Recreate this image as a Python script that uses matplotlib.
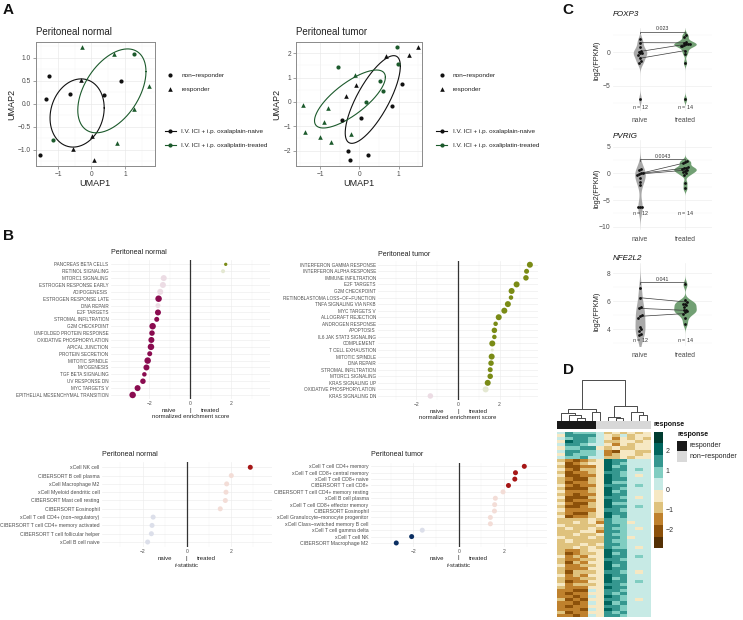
import numpy as np
import matplotlib
matplotlib.use("Agg")
import matplotlib.pyplot as plt
from matplotlib.colors import ListedColormap, BoundaryNorm

plt.rcParams["font.family"] = ["Liberation Sans", "DejaVu Sans"]
plt.rcParams["mathtext.fontset"] = "custom"
plt.rcParams["mathtext.it"] = "Liberation Sans:italic"
plt.rcParams["mathtext.rm"] = "Liberation Sans"

W, H = 743, 620
PT = 0.72  # points per pixel at 100 dpi

# ---------------- A: UMAP data ----------------
normal_umap1 = [-0.28, 0.67, 1.26, 1.72, 0.89, -1.28, -0.31, -0.63, 0.38, -1.35, 1.28, 0.01, -1.14, 0.76, -0.56, -1.54, 0.08]
normal_umap2 = [1.24, 1.07, 1.09, 0.38, 0.49, 0.61, 0.51, 0.21, 0.20, 0.10, -0.12, -0.69, -0.78, -0.86, -0.98, -1.12, -1.23]
normal_treat = ["T", "T", "T", "T", "N", "N", "N", "N", "N", "N", "T", "N", "T", "T", "N", "N", "N"]
normal_resp = ["R", "R", "NR", "R", "NR", "NR", "R", "NR", "NR", "NR", "R", "R", "NR", "R", "R", "NR", "R"]

tumor_umap1 = [-1.44, -0.54, -0.10, -0.08, -0.34, 0.17, -0.80, -0.44, 0.04, -0.91, -1.38, -1.00, -0.21,
               -0.72, -0.30, -0.25, 0.22, 0.96, 1.48, 0.67, 1.26, 0.98, 0.53, 1.09, 0.59, 0.82]
tumor_umap2 = [-0.12, 1.42, 1.11, 0.70, 0.25, 0.00, -0.26, -0.75, -0.67, -0.84, -1.23, -1.45, -1.30,
               -1.66, -2.00, -2.40, -2.19, 2.27, 2.27, 1.87, 1.94, 1.54, 0.85, 0.74, 0.44, -0.18]
tumor_treat = ["T", "T", "T", "N", "N", "T", "T", "N", "N", "T", "T", "T", "T",
               "T", "N", "N", "N", "T", "N", "N", "N", "T", "T", "N", "T", "N"]
tumor_resp = ["R", "NR", "R", "R", "R", "NR", "R", "NR", "NR", "R", "R", "R", "R",
              "R", "NR", "NR", "NR", "NR", "R", "R", "R", "NR", "NR", "NR", "NR", "NR"]

# ellipses: centre x, centre y, sd x, sd y, correlation
normal_ell_naive = (-0.43, -0.20, 0.81, 0.74, 0.15)
normal_ell_treated = (0.61, 0.28, 1.02, 0.91, 0.46)
tumor_ell_naive = (0.34, 0.10, 0.70, 1.80, 0.76)
tumor_ell_treated = (-0.24, 0.12, 0.90, 1.19, 0.75)

# ---------------- B: enrichment data ----------------
gs_normal = ["PANCREAS BETA CELLS", "RETINOL SIGNALING", "MTORC1 SIGNALING", "ESTROGEN RESPONSE EARLY",
             "ADIPOGENESIS", "ESTROGEN RESPONSE LATE", "DNA REPAIR", "E2F TARGETS", "STROMAL INFILTRATION",
             "G2M CHECKPOINT", "UNFOLDED PROTEIN RESPONSE", "OXIDATIVE PHOSPHORYLATION", "APICAL JUNCTION",
             "PROTEIN SECRETION", "MITOTIC SPINDLE", "MYOGENESIS", "TGF BETA SIGNALING", "UV RESPONSE DN",
             "MYC TARGETS V", "EPITHELIAL MESENCHYMAL TRANSITION"]
nes_normal = [1.72, 1.59, -1.29, -1.33, -1.46, -1.54, -1.57, -1.57, -1.63, -1.83, -1.86, -1.89, -1.91,
              -1.97, -2.07, -2.13, -2.23, -2.30, -2.56, -2.80]
sig_normal = [1, 0, 0, 0, 0, 1, 0, 1, 1, 1, 1, 1, 1, 1, 1, 1, 1, 1, 1, 1]
dot_normal = [3.3, 4.0, 6.0, 6.0, 6.0, 6.5, 5.0, 6.0, 5.0, 6.5, 5.5, 6.0, 6.5, 5.0, 6.5, 6.0, 4.5, 5.5, 6.0, 6.5]

gs_tumor = ["INTERFERON GAMMA RESPONSE", "INTERFERON ALPHA RESPONSE", "IMMUNE INFILTRATION", "E2F TARGETS",
            "G2M CHECKPOINT", "RETINOBLASTOMA LOSS\u2212OF\u2212FUNCTION", "TNFA SIGNALING VIA NFKB",
            "MYC TARGETS V", "ALLOGRAFT REJECTION", "ANDROGEN RESPONSE", "APOPTOSIS", "IL6 JAK STAT3 SIGNALING",
            "COMPLEMENT", "T CELL EXHAUSTION", "MITOTIC SPINDLE", "DNA REPAIR", "STROMAL INFILTRATION",
            "MTORC1 SIGNALING", "KRAS SIGNALING UP", "OXIDATIVE PHOSPHORYLATION", "KRAS SIGNALING DN"]
nes_tumor = [3.46, 3.30, 3.27, 2.82, 2.58, 2.55, 2.40, 2.23, 1.96, 1.81, 1.75, 1.75, 1.65, 1.65, 1.62,
             1.59, 1.55, 1.55, 1.43, 1.33, -1.33]
sig_tumor = [1, 1, 1, 1, 1, 1, 1, 1, 1, 1, 1, 1, 1, 0, 1, 1, 1, 1, 1, 0, 0]
dot_tumor = [6.0, 5.0, 5.5, 6.0, 6.0, 4.5, 6.0, 6.0, 6.0, 4.5, 5.5, 4.5, 6.0, 3.0, 6.0, 5.5, 5.0, 5.5,
             6.0, 6.0, 5.5]

cells_normal = ["xCell NK cell", "CIBERSORT B cell plasma", "xCell Macrophage M2", "xCell Myeloid dendritic cell",
                "CIBERSORT Mast cell resting", "CIBERSORT Eosinophil", "xCell T cell CD4+ (non\u2212regulatory)",
                "CIBERSORT T cell CD4+ memory activated", "CIBERSORT T cell follicular helper", "xCell B cell naive"]
tstat_normal = [2.88, 2.02, 1.81, 1.78, 1.75, 1.52, -1.52, -1.57, -1.60, -1.77]
tsig_normal = [1, 0, 0, 0, 0, 0, 0, 0, 0, 0]

cells_tumor = ["xCell T cell CD4+ memory", "xCell T cell CD8+ central memory", "xCell T cell CD8+ naive",
               "CIBERSORT T cell CD8+", "CIBERSORT T cell CD4+ memory resting", "xCell B cell plasma",
               "xCell T cell CD8+ effector memory", "CIBERSORT Eosinophil",
               "xCell Granulocyte\u2212monocyte progenitor", "xCell Class\u2212switched memory B cell",
               "xCell T cell gamma delta", "xCell T cell NK", "CIBERSORT Macrophage M2"]
tstat_tumor = [2.90, 2.51, 2.48, 2.20, 1.96, 1.62, 1.59, 1.58, 1.40, 1.40, -1.61, -2.08, -2.76]
tsig_tumor = [1, 1, 1, 1, 0, 0, 0, 0, 0, 0, 0, 1, 1]

# ---------------- C: expression data ----------------
foxp3_naive = [1.93, 1.42, 0.83, 0.24, 0.09, -0.06, -0.15, -0.40, -0.89, -1.29, -1.63, -6.97]
foxp3_treated = [2.57, 2.32, 1.57, 1.40, 1.28, 1.25, 1.20, 1.10, 1.00, 0.90, 0.25, -0.20, -1.54, -6.97]
foxp3_pairs = [(1, 3), (4, 4), (8, 10)]
pvrig_naive = [0.80, 0.62, 0.10, 0.00, -0.13, -0.31, -0.94, -1.57, -2.20, -6.30, -6.30, -6.30]
pvrig_treated = [2.30, 2.20, 1.90, 1.25, 1.00, 0.94, 0.80, 0.62, 0.50, 0.30, 0.00, -0.30, -1.76, -2.80]
pvrig_pairs = [(3, 4), (4, 7), (2, 2)]
nfe_naive = [6.98, 6.26, 5.60, 5.50, 5.00, 4.93, 4.84, 4.16, 4.05, 3.86, 3.69, 3.57]
nfe_treated = [7.21, 6.07, 5.95, 5.84, 5.80, 5.71, 5.59, 5.41, 5.36, 5.30, 5.24, 5.12, 4.84, 4.41]
nfe_pairs = [(1, 2), (3, 8), (5, 11)]
p_values = ["0.023", "0.0043", "0.041"]

# ---------------- D: heatmap data ----------------
sample_response = ["responder"] * 5 + ["non\u2212responder"] * 7
# each char = colour bin 0 (lowest) .. 9 (highest) of the scaled expression
heat_rows = [
    "576665343434", "477775435344", "567765424343", "487765334434", "577655424344", "466774343344",
    "577665214433", "476665234434", "566755334344",
    "321234877555", "412344876555", "311224867555", "421334877565", "312234776555", "411224876545",
    "321134877555", "312234866555", "421224777565", "311134876555", "422234867555", "321224877555",
    "411134776545", "312224877555", "421134866555", "311234877565", "422224776555", "321134877555",
    "412234867555",
    "333343766555", "334342766455", "433334776555", "343343766545", "333442776555", "334334766555",
    "433343776455", "343333766555", "333434776555", "334343766545",
    "322344877555", "312334867555", "423244877565", "322334776555", "313244877555", "422334867555",
    "322244877555", "313334776545", "423244877555", "322334867555", "312244877565", "423334776555",
    "322244877555",
    "221154776555", "212244767555", "221254876555", "312144776545", "221254867555", "212244776555",
    "222154876555", "312244767555", "221254776555",
]
# column dendrogram: (left node, right node, height)
col_merges = [(2, 3, 3.0), (1, 12, 5.7), (0, 13, 8.0), (4, 5, 9.0), (14, 15, 11.3),
              (7, 8, 2.3), (6, 17, 4.0), (10, 11, 5.7), (9, 19, 9.0), (18, 20, 14.7), (16, 21, 40.7)]

BLACK, GREEN = "#111111", "#1c5a2c"
TXT = "#4d4d4d"

fig = plt.figure(figsize=(W / 100, H / 100), dpi=100)


def px_axes(x0, y0, x1, y1):
    return fig.add_axes([x0 / W, 1 - y1 / H, (x1 - x0) / W, (y1 - y0) / H])


ov = px_axes(0, 0, W, H)
ov.set_xlim(0, W)
ov.set_ylim(H, 0)
ov.axis("off")
ov.set_zorder(10)


def umap_panel(box, xs, ys, treat, resp, ells, xlim, ylim, yticks, ylabels, xminor, yminor):
    ax = px_axes(*box)
    for t, col in (("N", BLACK), ("T", GREEN)):
        for r, mk, s in (("NR", "o", 9), ("R", "^", 11)):
            sel = [(x, y) for x, y, tt, rr in zip(xs, ys, treat, resp) if tt == t and rr == r]
            if sel:
                px, py = zip(*sel)
                ax.scatter(px, py, marker=mk, s=s, c=col, linewidths=0, zorder=3)
    tt = np.linspace(0, 2 * np.pi, 300)
    for (cx, cy, sx, sy, r), col in zip(ells, (BLACK, GREEN)):
        ax.plot(cx + sx * np.cos(tt), cy + sy * (r * np.cos(tt) + np.sqrt(1 - r * r) * np.sin(tt)),
                color=col, lw=0.8, zorder=2)
    ax.set_xlim(xlim)
    ax.set_ylim(ylim)
    ax.set_xticks([-1, 0, 1])
    ax.set_xticklabels(["\u22121", "0", "1"])
    ax.set_yticks(yticks)
    ax.set_yticklabels(ylabels)
    ax.set_xticks(xminor, minor=True)
    ax.set_yticks(yminor, minor=True)
    ax.tick_params(labelsize=4.8, labelcolor=TXT, color="#7a7a7a", length=2, width=0.5, pad=1.5)
    ax.tick_params(which="minor", length=0)
    ax.grid(True, which="major", color="#e8e8e8", lw=0.45)
    ax.grid(True, which="minor", color="#f4f4f4", lw=0.3)
    ax.set_axisbelow(True)
    for s in ax.spines.values():
        s.set_color("#8a8a8a")
        s.set_linewidth(0.7)
    return ax


umap_panel((36, 42, 155, 166), normal_umap1, normal_umap2, normal_treat, normal_resp,
           (normal_ell_naive, normal_ell_treated), (-1.66, 1.9), (-1.35, 1.34),
           [-1, -0.5, 0, 0.5, 1], ["\u22121.0", "\u22120.5", "0.0", "0.5", "1.0"],
           [-1.5, -0.5, 0.5, 1.5], [-1.25, -0.75, -0.25, 0.25, 0.75, 1.25])
umap_panel((296, 42, 422, 166), tumor_umap1, tumor_umap2, tumor_treat, tumor_resp,
           (tumor_ell_naive, tumor_ell_treated), (-1.61, 1.59), (-2.63, 2.46),
           [-2, -1, 0, 1, 2], ["\u22122", "\u22121", "0", "1", "2"],
           [-1.5, -0.5, 0.5, 1.5], [-2.5, -1.5, -0.5, 0.5, 1.5])

for x0, title, xc in ((36, "Peritoneal normal", 95), (296, "Peritoneal tumor", 359)):
    ov.text(x0, 32, title, fontsize=7, ha="left", va="center", color="#222222")
    ov.text(xc, 183, "UMAP1", fontsize=6.5, ha="center", va="center", color="#222222")
for xl in (12, 277):
    ov.text(xl, 104, "UMAP2", fontsize=6.5, ha="center", va="center", rotation=90, color="#222222")

# legends of panel A
for xm in (170.3, 441.7):
    ov.scatter([xm], [75.3], marker="o", s=9, c=BLACK, linewidths=0)
    ov.scatter([xm], [89], marker="^", s=11, c=BLACK, linewidths=0)
    ov.text(xm + 11, 75.3, "non\u2212responder", fontsize=4.6, va="center", color="#222222")
    ov.text(xm + 11, 89, "responder", fontsize=4.6, va="center", color="#222222")
    for yy, col, lab in ((131.3, BLACK, "I.V. ICI + i.p. oxalaplain-naive"),
                         (145, GREEN, "I.V. ICI + i.p. oxaliplatin-treated")):
        ov.plot([xm - 5.5, xm + 5.5], [yy, yy], color=col, lw=0.8)
        ov.scatter([xm], [yy], marker="o", s=9, c=col, linewidths=0)
        ov.text(xm + 11, yy, lab, fontsize=4.6, va="center", color="#222222")


# ---------------- B ----------------
def dot_panel(box, labels, vals, sig, sizes, cols4, lim, lab_fs):
    x0, y0, x1, y1 = box
    ax = px_axes(*box)
    n = len(labels)
    y = np.arange(n)
    cpos, cpos_pale, cneg, cneg_pale = cols4
    cols = [(cpos if s else cpos_pale) if v > 0 else (cneg if s else cneg_pale) for v, s in zip(vals, sig)]
    ax.scatter(vals, y, s=[(d * PT) ** 2 for d in sizes], c=cols, linewidths=0, zorder=3)
    ax.axvline(0, color="#333333", lw=0.9, zorder=2)
    ax.set_xlim(-lim, lim)
    ax.set_ylim(n - 0.4, -0.6)
    ax.set_yticks(y)
    ax.set_yticklabels(labels, fontsize=lab_fs, color=TXT)
    ax.set_xticks([-2, 0, 2])
    ax.set_xticklabels(["\u22122", "0", "2"], fontsize=3.6, color=TXT)
    ax.set_xticks([-3, -1, 1, 3], minor=True)
    ax.tick_params(length=0, pad=1.5)
    ax.tick_params(which="minor", length=0)
    ax.grid(True, which="major", color="#ececec", lw=0.45)
    ax.grid(True, which="minor", axis="x", color="#f5f5f5", lw=0.3)
    ax.set_axisbelow(True)
    for s in ax.spines.values():
        s.set_visible(False)
    return (x0 + x1) / 2


GSEA_COLS = ("#7a8b16", "#e4e8d2", "#8a0c50", "#ecdce4")
CELL_COLS = ("#a61616", "#f3ddd7", "#0b2f62", "#dcdfea")

panels_b = [
    ((110.6, 260.2, 270, 399.1), gs_normal, nes_normal, sig_normal, dot_normal, GSEA_COLS, 3.87, 3.3,
     "Peritoneal normal", "normalized enrichment score", 253),
    ((378, 260.8, 538, 399.9), gs_tumor, nes_tumor, sig_tumor, dot_tumor, GSEA_COLS, 3.85, 3.3,
     "Peritoneal tumor", "normalized enrichment score", 254),
    ((101.7, 462.3, 271.7, 547), cells_normal, tstat_normal, tsig_normal, [5.0] * len(cells_normal),
     CELL_COLS, 3.85, 3.7, "Peritoneal normal", r"$t$-statistic", 455),
    ((370.7, 462.5, 546.7, 546.8), cells_tumor, tstat_tumor, tsig_tumor, [5.0] * len(cells_tumor),
     CELL_COLS, 3.89, 3.7, "Peritoneal tumor", r"$t$-statistic", 455),
]
for box, labs, vals, sig, sizes, cols4, lim, fs, title, xlab, ty in panels_b:
    zx = dot_panel(box, labs, vals, sig, sizes, cols4, lim, fs)
    ov.text(box[0], ty, title, fontsize=5.1, ha="left", va="center", color="#222222")
    yb = box[3]
    ov.text(zx - 21.5, yb + 11.2, "naive", fontsize=4.3, ha="center", va="center", color="#222222")
    ov.text(zx, yb + 11.2, "|", fontsize=4.3, ha="center", va="center", color="#222222")
    ov.text(zx + 20, yb + 11.2, "treated", fontsize=4.3, ha="center", va="center", color="#222222")
    ov.text(zx, yb + 17.9, xlab, fontsize=4.3, ha="center", va="center", color="#222222")


# ---------------- C ----------------
def kde(vals):
    v = np.asarray(vals, float)
    n = len(v)
    iqr = np.subtract(*np.percentile(v, [75, 25]))
    bw = 0.9 * min(v.std(ddof=1), iqr / 1.34) * n ** -0.2
    ys = np.linspace(v.min() - 3 * bw, v.max() + 3 * bw, 400)
    d = np.exp(-0.5 * ((ys[:, None] - v[None, :]) / bw) ** 2).sum(1) / (n * bw * np.sqrt(2 * np.pi))
    return ys, d


def swarm(vals, centre, dy, dx):
    v = np.asarray(vals, float)
    order = np.argsort(v)
    xs = np.full(len(v), float(centre))
    groups, cur = [], [order[0]]
    for i in order[1:]:
        if v[i] - v[cur[0]] < dy:
            cur.append(i)
        else:
            groups.append(cur)
            cur = [i]
    groups.append(cur)
    for g in groups:
        xs[g] = centre + (np.arange(len(g)) - (len(g) - 1) / 2) * dx
    return xs


def violin_panel(box, naive, treated, pairs, ylim, yticks, minor, pval, p_y, n_y, dy):
    ax = px_axes(*box)
    groups = [naive, treated]
    dens = [kde(g) for g in groups]
    peak = max(d.max() for _, d in dens)
    for pos, (ys, d), col in zip((1, 2), dens, ("#a9a9a9", "#72a074")):
        w = d / peak * 0.25
        ax.fill_betweenx(ys, pos - w, pos + w, color=col, lw=0, zorder=2)
    xs = [swarm(g, pos, dy, 0.04) for g, pos in zip(groups, (1, 2))]
    for i, j in pairs:
        ax.plot([xs[0][i], xs[1][j]], [naive[i], treated[j]], color="#3a3a3a", lw=0.5, zorder=3)
    for g, x in zip(groups, xs):
        ax.scatter(x, g, s=4, c="#111111", linewidths=0, zorder=4)
    tip = 0.02 * (ylim[1] - ylim[0])
    ax.plot([1, 1, 2, 2], [p_y - tip, p_y, p_y, p_y - tip], color="#3a3a3a", lw=0.5, zorder=3)
    ax.text(1.5, p_y + 0.2 * tip, pval, ha="center", va="bottom", fontsize=3.8, color="#333333")
    for pos, g in zip((1, 2), groups):
        ax.text(pos, n_y, r"$n$ = %d" % len(g), ha="center", va="center", fontsize=3.9, color="#333333")
    ax.set_xlim(0.4, 2.6)
    ax.set_ylim(ylim)
    ax.set_xticks([1, 2])
    ax.set_xticklabels(["naive", "treated"], fontsize=4.9, color=TXT)
    ax.set_yticks(yticks)
    ax.set_yticklabels([("\u2212%g" % -t) if t < 0 else "%g" % t for t in yticks], fontsize=4.9, color=TXT)
    ax.set_yticks(minor, minor=True)
    ax.tick_params(length=0, pad=2)
    ax.tick_params(axis="x", pad=4)
    ax.tick_params(which="minor", length=0)
    ax.grid(True, which="major", color="#ececec", lw=0.45)
    ax.grid(True, which="minor", axis="y", color="#f5f5f5", lw=0.3)
    ax.set_axisbelow(True)
    for s in ax.spines.values():
        s.set_visible(False)


violin_panel((613, 28, 712, 111), foxp3_naive, foxp3_treated, foxp3_pairs, (-8.72, 3.6), [-5, 0],
             [-7.5, -2.5, 2.5], p_values[0], 3.06, -8.1, 0.4)
violin_panel((613, 140, 712, 230), pvrig_naive, pvrig_treated, pvrig_pairs, (-10.6, 6.25), [-10, -5, 0, 5],
             [-7.5, -2.5, 2.5], p_values[1], 2.63, -7.5, 0.5)
violin_panel((613, 263, 712, 346), nfe_naive, nfe_treated, nfe_pairs, (2.81, 8.74), [4, 6, 8],
             [3, 5, 7], p_values[2], 7.36, 3.26, 0.19)

for ty, gene in ((14, "FOXP3"), (136, "PVRIG"), (258, "NFE2L2")):
    ov.text(613, ty, gene, fontsize=5.8, style="italic", ha="left", va="center", color="#111111")
for ly in (60, 188, 311.7):
    ov.text(597, ly, "log2(FPKM)", fontsize=5.3, rotation=90, ha="center", va="center", color="#222222")

# ---------------- D ----------------
brbg10 = ["#543005", "#8c510a", "#bf812d", "#dfc27d", "#f6e8c3",
          "#c7eae5", "#80cdc1", "#35978f", "#01665e", "#003c30"]
edges = np.linspace(-2.93, 2.93, 11)
bins = np.array([[int(c) for c in r] for r in heat_rows])
zvals = edges[:-1][bins] + (edges[1] - edges[0]) / 2
cmap = ListedColormap(brbg10)
norm = BoundaryNorm(edges, cmap.N)

axh = px_axes(557.3, 431.7, 650.7, 617)
im = axh.imshow(zvals, cmap=cmap, norm=norm, aspect="auto", interpolation="nearest")
axh.axis("off")

axa = px_axes(557.3, 421, 650.7, 429.3)
resp_cols = [[0.10, 0.10, 0.10] if r == "responder" else [0.85, 0.85, 0.85] for r in sample_response]
axa.imshow([resp_cols], aspect="auto", interpolation="nearest")
axa.axis("off")

axd = px_axes(557.3, 379.3, 650.7, 420.7)
node_x = {i: float(i) for i in range(len(sample_response))}
node_h = {i: 0.0 for i in range(len(sample_response))}
nid = len(sample_response)
for a, b, h in col_merges:
    axd.plot([node_x[a], node_x[a], node_x[b], node_x[b]], [node_h[a], h, h, node_h[b]],
             color="#4a4a4a", lw=0.7, solid_capstyle="butt")
    node_x[nid] = (node_x[a] + node_x[b]) / 2
    node_h[nid] = h
    nid += 1
axd.set_xlim(-0.5, len(sample_response) - 0.5)
axd.set_ylim(0, 41.4)
axd.axis("off")

axc = px_axes(654.3, 431.7, 662.7, 548.3)
cb = fig.colorbar(im, cax=axc, ticks=[-2, -1, 0, 1, 2])
cb.outline.set_visible(False)
cb.minorticks_off()
cb.ax.set_yticklabels(["\u22122", "\u22121", "0", "1", "2"])
cb.ax.tick_params(which="both", length=0, labelsize=5, labelcolor="#333333", pad=2)

ov.text(653, 425, "response", fontsize=5, fontweight="bold", ha="left", va="center", color="#111111")
ov.text(677, 435, "response", fontsize=5, fontweight="bold", ha="left", va="center", color="#111111")
ov.add_patch(plt.Rectangle((677, 440.5), 10, 10.5, color="#1a1a1a", lw=0))
ov.add_patch(plt.Rectangle((677, 451), 10, 10.5, color="#d9d9d9", lw=0))
ov.text(690, 445.7, "responder", fontsize=5, va="center", color="#222222")
ov.text(690, 456.5, "non\u2212responder", fontsize=5, va="center", color="#222222")

# panel letters
for lx, ly, letter in ((8, 10, "A"), (9, 236.5, "B"), (567.5, 10, "C"), (568, 369.5, "D")):
    ov.text(lx, ly, letter, fontsize=11, fontweight="bold", ha="center", va="center", color="#111111")

fig.savefig("out.png", dpi=100)
